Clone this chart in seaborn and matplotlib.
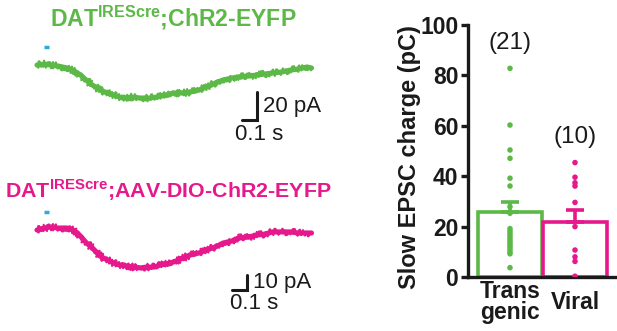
import numpy as np
import pandas as pd
import seaborn as sns
import matplotlib.pyplot as plt

sns.set_style("ticks")
plt.rcParams['font.family'] = ['Liberation Sans', 'DejaVu Sans']
plt.rcParams['mathtext.fontset'] = 'custom'
plt.rcParams['mathtext.rm'] = 'Liberation Sans'
plt.rcParams['mathtext.bf'] = 'Liberation Sans:bold'

GREEN = '#5cb947'
MAGENTA = '#e5198b'
BLUE = '#29abe2'
INK = '#1a1a1a'

# traces: time (s) and current (pA, relative to baseline)
green_t = [0, 0.05, 0.09, 0.14, 0.2, 0.25, 0.29, 0.35, 0.42, 0.47, 0.51, 0.57, 0.63, 0.69,
           0.75, 0.8, 0.86, 0.91, 0.97, 1.02, 1.08, 1.13, 1.19, 1.24, 1.3, 1.35, 1.41,
           1.47, 1.52, 1.57, 1.63, 1.69, 1.74, 1.8, 1.83]
green_i = [0, 0.7, 0, -0.7, -2.1, -4.3, -7.1, -12.9, -17.9, -20, -21.4, -23.6, -22.9, -23.6,
           -23.6, -22.9, -21.4, -20, -20, -19.3, -17.9, -15.7, -12.9, -10.7, -9.3, -8.6, -7.9,
           -7.1, -6.4, -5.7, -5, -3.6, -2.9, -1.4, -2.1]
magenta_t = [0, 0.05, 0.09, 0.14, 0.2, 0.24, 0.27, 0.3, 0.33, 0.37, 0.4, 0.43, 0.47, 0.51,
             0.55, 0.6, 0.64, 0.69, 0.73, 0.78, 0.82, 0.86, 0.91, 0.96, 1.02, 1.08, 1.13,
             1.19, 1.24, 1.3, 1.35, 1.41, 1.47, 1.52, 1.57, 1.63, 1.69, 1.74, 1.8, 1.83]
magenta_i = [0, 1.3, 2, 1.3, 1.3, 0, -2, -5.3, -8.7, -12, -15.3, -18, -20, -22,
             -23.3, -24, -24.7, -25.3, -24.7, -24.7, -23.3, -22.7, -21.3, -19.3, -16.7, -15.3,
             -13.3, -11.3, -8.7, -7.3, -5.3, -4.7, -3.3, -2.7, -1.3, -1.3, -1.3, -2, -2, -2]
stim = [0.047, 0.08]

# bar chart
groups = ['Transgenic', 'Viral']
green_charge = [82.8, 60.3, 50.4, 47.1, 39.2, 36.1, 27.9, 25.3, 19.2, 18.2, 17.2, 16.3,
                15.4, 14.5, 13.6, 12.7, 11.8, 10.9, 10.0, 9.2, 3.7]
magenta_charge = [45.4, 39.6, 37.4, 36.1, 29.6, 20.0, 10.7, 8.0, 6.2, 0.3]
means = [25.7, 21.9]
sems = [4.2, 4.6]
n_labels = ['(21)', '(10)']
x_labels = ['Trans\ngenic', 'Viral']

W, H = 617, 331
fig = plt.figure(figsize=(6.17, 3.31), dpi=100)


def px_axes(l, t, r, b):
    return fig.add_axes([l / W, 1 - b / H, (r - l) / W, (b - t) / H])


def draw_trace(ax, t, i, color, ylim, stim_y, bar_pa, bar_t0, bar_y0, s_xy, s_va):
    ax.set_xlim(-7 / 150, 293 / 150)
    ax.set_ylim(*ylim)
    ax.axis('off')
    # solid band plus a jagged overlay for the recording noise look
    sns.lineplot(x=t, y=i, color=color, lw=3.7, ax=ax)
    sns.lineplot(x=t, y=i, color=color, lw=1.5, ax=ax)
    ax.lines[-1].set_sketch_params(scale=3.4, length=1.5, randomness=2)
    ax.plot(stim, [stim_y, stim_y], color=BLUE, lw=2.5, solid_capstyle='butt')
    bx = [bar_t0, bar_t0 + 0.1, bar_t0 + 0.1]
    by = [bar_y0, bar_y0, bar_y0 + bar_pa]
    ax.plot(bx, by, color=INK, lw=2.2, solid_joinstyle='miter')
    ax.text(bar_t0 + 0.14, bar_y0 + bar_pa / 2, f'{bar_pa} pA', fontsize=16,
            va='center', ha='left', color=INK)
    ax.text(s_xy[0], s_xy[1], '0.1 s', fontsize=16, va=s_va, ha='left', color=INK)


# green trace: 150 px per s, 1.4 px per pA
ax1 = px_axes(30, 40, 330, 140)
draw_trace(ax1, green_t, green_i, GREEN, (-53.6, 17.9), 12.9, 20, 1.367, -39.3,
           (1.32, -42.5), 'top')
# magenta trace: 150 px per s, 1.5 px per pA
ax2 = px_axes(30, 200, 330, 320)
draw_trace(ax2, magenta_t, magenta_i, MAGENTA, (-60, 20), 12, 10, 1.3, -40,
           (1.287, -48.7), 'center')

fig.text(173 / W, 1 - 18 / H, r'DAT$^{\mathbf{IREScre}}$;ChR2-EYFP', color=GREEN,
         fontsize=16.6, fontweight='bold', ha='center', va='center')
fig.text(168 / W, 1 - 190 / H, r'DAT$^{\mathbf{IREScre}}$;AAV-DIO-ChR2-EYFP', color=MAGENTA,
         fontsize=15.4, fontweight='bold', ha='center', va='center')

# ---- bar chart
df = pd.DataFrame({
    'group': ['Transgenic'] * len(green_charge) + ['Viral'] * len(magenta_charge),
    'charge': green_charge + magenta_charge,
})
ax3 = px_axes(468, 25, 617, 277)
palette = {'Transgenic': GREEN, 'Viral': MAGENTA}
sns.barplot(x=groups, y=means, hue=groups, palette=palette, fill=False, width=0.98,
            linewidth=2.6, legend=False, ax=ax3)
for k, c in enumerate([GREEN, MAGENTA]):
    ax3.errorbar([k], [means[k]], yerr=[[0], [sems[k]]], fmt='none', ecolor=c,
                 elinewidth=2.6, capsize=6.5, capthick=2.6)
sns.stripplot(data=df, x='group', y='charge', hue='group', palette=palette,
              jitter=False, size=4, legend=False, ax=ax3, zorder=5)
ax3.set_xlim(-0.646, 1.646)
ax3.set_ylim(0, 100)
ax3.set_yticks([0, 20, 40, 60, 80, 100])
ax3.set_yticklabels(['0', '20', '40', '60', '80', '100'], fontsize=16.5, fontweight='bold',
                    color=INK)
ax3.set_xticks([])
ax3.set_xlabel('')
sns.despine(ax=ax3)
for s in ['left', 'bottom']:
    ax3.spines[s].set_linewidth(2.4)
    ax3.spines[s].set_color(INK)
ax3.tick_params(axis='y', length=5, width=2.4, pad=2, color=INK)
ax3.set_ylabel('Slow EPSC charge (pC)', fontsize=17, fontweight='bold', color=INK)
ax3.yaxis.set_label_coords(-0.315, 0.474)
for k in range(2):
    ax3.text(k, -0.1, x_labels[k], transform=ax3.get_xaxis_transform(), ha='center',
             va='center', fontsize=16.5, fontweight='bold', linespacing=0.88, color=INK)
ax3.text(0, 93, n_labels[0], ha='center', va='center', fontsize=17.5, color=INK)
ax3.text(1, 55.6, n_labels[1], ha='center', va='center', fontsize=17.5, color=INK)

fig.savefig('out.png', dpi=100)
